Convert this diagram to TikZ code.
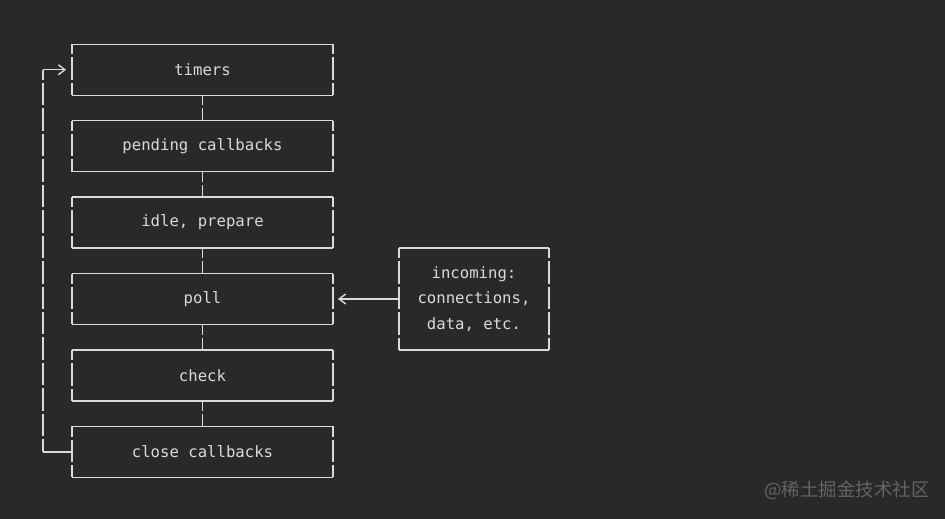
\documentclass[tikz,border=0pt]{standalone}
\usepackage{fontspec}
\setmonofont{DejaVu Sans Mono}
\newfontfamily\cjkfont{Noto Sans CJK SC}
\usetikzlibrary{arrows.meta, positioning, calc}

\definecolor{bgdark}{RGB}{41,41,41}
\definecolor{ink}{RGB}{218,218,218}
\definecolor{markgray}{RGB}{100,100,100}

% box edges: solid top/bottom, broken sides like the text rows
\newcommand{\frameit}[1]{%
    \draw[hline] (#1.north west) -- (#1.north east) (#1.south west) -- (#1.south east);
    \draw[vline] (#1.north west) -- (#1.south west) (#1.north east) -- (#1.south east);}

\begin{document}
\begin{tikzpicture}[
    x=0.02cm, y=-0.02cm,
    txt/.style={text=ink, font=\ttfamily\fontsize{8.9}{14.5}\selectfont, inner sep=0pt, outer sep=0pt},
    phase/.style={txt, minimum width=5.22cm, minimum height=1.019cm},
    hline/.style={draw=ink, line width=0.8pt},
    vline/.style={hline, dash pattern=on 0.449cm off 0.06cm, dash phase=0.245cm}
]
    \fill[bgdark] (0,0) rectangle (945,519);
    \useasboundingbox (0,0) rectangle (945,519);

    \node[phase] (timers) at (202.5, 69.77) {timers};
    \node[phase] (pending) at (202.5, 146.18) {pending callbacks};
    \node[phase] (idle) at (202.5, 222.59) {idle, prepare};
    \node[phase] (poll) at (202.5, 299.0) {poll};
    \node[phase] (check) at (202.5, 375.41) {check};
    \node[phase] (close) at (202.5, 451.82) {close callbacks};

    \node[txt, align=center, minimum width=3cm, minimum height=2.038cm] (incoming) at (474, 299.0) {incoming:\\connections,\\data, etc.};

    \foreach \b in {timers, pending, idle, poll, check, close, incoming} {\frameit{\b}}

    \draw[vline] (timers.south) -- (pending.north);
    \draw[vline] (pending.south) -- (idle.north);
    \draw[vline] (idle.south) -- (poll.north);
    \draw[vline] (poll.south) -- (check.north);
    \draw[vline] (check.south) -- (close.north);

    % loop back to the start
    \coordinate (loop) at (43, 0);
    \draw[hline] (close.west) -- (close.west -| loop);
    \draw[vline] (timers.west -| loop) -- (close.west -| loop);
    \draw[hline, -{Straight Barb[length=0.13cm, width=0.2cm]}] (timers.west -| loop) -- ([xshift=-0.12cm]timers.west);

    \draw[hline, -{Straight Barb[length=0.13cm, width=0.2cm]}] (incoming.west) -- ([xshift=0.1cm]poll.east);

    \node[text=markgray, font=\cjkfont\fontsize{10.5}{12}\selectfont] (mark) at (847, 490) {@稀土掘金技术社区};
\end{tikzpicture}
\end{document}
